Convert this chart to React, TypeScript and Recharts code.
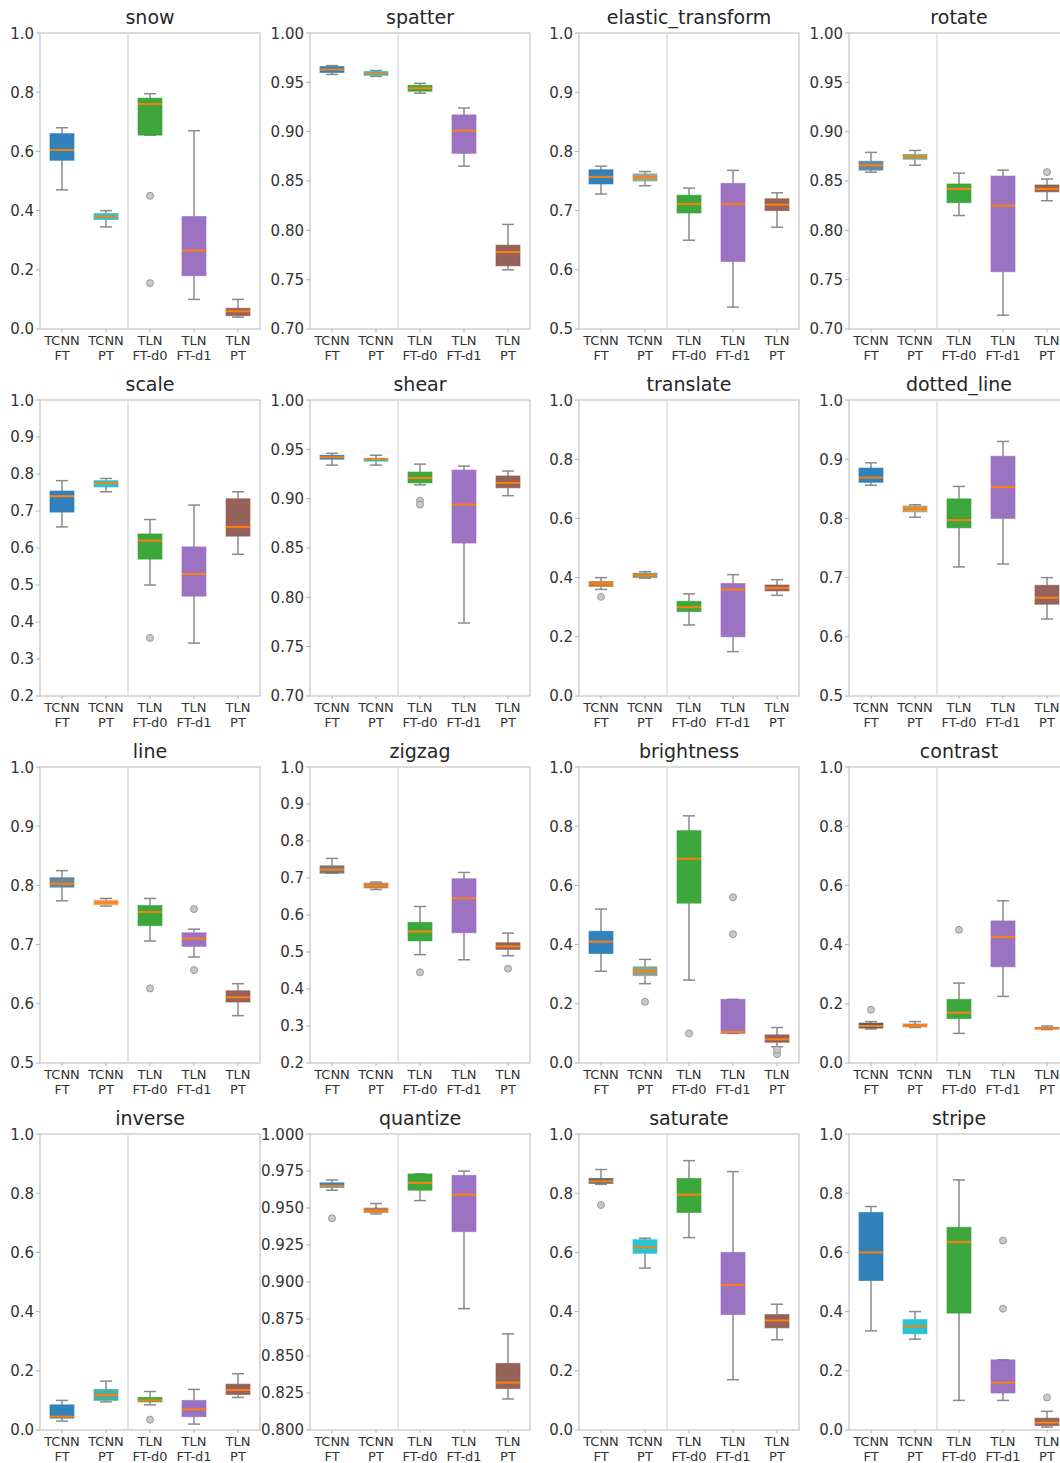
import React from 'react';
import { ComposedChart, Bar, XAxis, YAxis, ReferenceLine, ReferenceArea } from 'recharts';

const categories = ['TCNN FT', 'TCNN PT', 'TLN FT-d0', 'TLN FT-d1', 'TLN PT'];

// each box: [whisker low, q1, median, q3, whisker high]
const snowStats = [[0.47, 0.57, 0.605, 0.66, 0.68], [0.345, 0.37, 0.38, 0.39, 0.4], [0.655, 0.655, 0.76, 0.78, 0.795], [0.1, 0.18, 0.265, 0.38, 0.67], [0.04, 0.045, 0.06, 0.07, 0.1]];
const snowOutliers = [[], [], [0.45, 0.155], [], []];

const spatterStats = [[0.958, 0.96, 0.963, 0.966, 0.967], [0.956, 0.957, 0.959, 0.961, 0.962], [0.939, 0.941, 0.944, 0.947, 0.949], [0.865, 0.878, 0.901, 0.917, 0.924], [0.76, 0.764, 0.778, 0.785, 0.806]];
const spatterOutliers = [[], [], [], [], []];

const elasticStats = [[0.728, 0.745, 0.757, 0.769, 0.775], [0.742, 0.75, 0.756, 0.762, 0.766], [0.65, 0.696, 0.711, 0.726, 0.738], [0.537, 0.614, 0.711, 0.746, 0.768], [0.672, 0.7, 0.71, 0.72, 0.73]];
const elasticOutliers = [[], [], [], [], []];

const rotateStats = [[0.859, 0.861, 0.866, 0.87, 0.879], [0.866, 0.872, 0.875, 0.877, 0.881], [0.815, 0.828, 0.842, 0.847, 0.858], [0.714, 0.758, 0.825, 0.855, 0.861], [0.83, 0.839, 0.842, 0.846, 0.852]];
const rotateOutliers = [[], [], [], [], [0.859]];

const scaleStats = [[0.657, 0.697, 0.74, 0.754, 0.782], [0.752, 0.765, 0.775, 0.782, 0.788], [0.5, 0.57, 0.62, 0.638, 0.677], [0.343, 0.47, 0.53, 0.603, 0.716], [0.583, 0.632, 0.657, 0.733, 0.752]];
const scaleOutliers = [[], [], [0.357], [], []];

const shearStats = [[0.934, 0.94, 0.942, 0.944, 0.946], [0.934, 0.938, 0.94, 0.941, 0.944], [0.914, 0.916, 0.921, 0.927, 0.935], [0.774, 0.855, 0.894, 0.929, 0.933], [0.903, 0.911, 0.916, 0.923, 0.928]];
const shearOutliers = [[], [], [0.898, 0.894], [], []];

const translateStats = [[0.36, 0.37, 0.38, 0.387, 0.4], [0.398, 0.4, 0.407, 0.415, 0.42], [0.24, 0.285, 0.3, 0.32, 0.345], [0.15, 0.2, 0.36, 0.38, 0.41], [0.34, 0.355, 0.365, 0.375, 0.393]];
const translateOutliers = [[0.335], [], [], [], []];

const dottedStats = [[0.856, 0.861, 0.869, 0.885, 0.894], [0.802, 0.811, 0.816, 0.821, 0.823], [0.718, 0.784, 0.797, 0.833, 0.854], [0.723, 0.8, 0.853, 0.905, 0.93], [0.63, 0.655, 0.666, 0.687, 0.7]];
const dottedOutliers = [[], [], [], [], []];

const lineStats = [[0.774, 0.797, 0.803, 0.813, 0.825], [0.765, 0.767, 0.771, 0.775, 0.778], [0.706, 0.732, 0.755, 0.766, 0.778], [0.679, 0.697, 0.71, 0.72, 0.726], [0.58, 0.603, 0.611, 0.622, 0.634]];
const lineOutliers = [[], [], [0.626], [0.76, 0.657], []];

const zigzagStats = [[0.713, 0.713, 0.723, 0.733, 0.753], [0.669, 0.673, 0.679, 0.686, 0.689], [0.493, 0.53, 0.555, 0.58, 0.623], [0.479, 0.552, 0.645, 0.698, 0.715], [0.49, 0.507, 0.515, 0.525, 0.551]];
const zigzagOutliers = [[], [], [0.445], [], [0.455]];

const brightnessStats = [[0.31, 0.37, 0.41, 0.445, 0.52], [0.268, 0.295, 0.31, 0.325, 0.35], [0.28, 0.54, 0.69, 0.785, 0.835], [0.1, 0.1, 0.105, 0.215, 0.215], [0.055, 0.07, 0.08, 0.095, 0.12]];
const brightnessOutliers = [[], [0.207], [0.1], [0.56, 0.435], [0.03, 0.045]];

const contrastStats = [[0.115, 0.118, 0.125, 0.135, 0.14], [0.12, 0.122, 0.127, 0.132, 0.14], [0.1, 0.15, 0.17, 0.215, 0.27], [0.225, 0.325, 0.425, 0.48, 0.548], [0.113, 0.115, 0.117, 0.12, 0.125]];
const contrastOutliers = [[0.18], [], [0.45], [], []];

const inverseStats = [[0.03, 0.04, 0.045, 0.085, 0.1], [0.095, 0.1, 0.118, 0.137, 0.165], [0.085, 0.095, 0.1, 0.11, 0.13], [0.02, 0.045, 0.07, 0.1, 0.137], [0.11, 0.12, 0.135, 0.155, 0.19]];
const inverseOutliers = [[], [], [0.035], [], []];

const quantizeStats = [[0.962, 0.964, 0.965, 0.967, 0.969], [0.946, 0.947, 0.948, 0.95, 0.953], [0.955, 0.962, 0.967, 0.973, 0.973], [0.882, 0.934, 0.959, 0.972, 0.975], [0.821, 0.828, 0.832, 0.845, 0.865]];
const quantizeOutliers = [[0.943], [], [], [], []];

const saturateStats = [[0.83, 0.833, 0.84, 0.85, 0.88], [0.547, 0.597, 0.617, 0.643, 0.648], [0.65, 0.735, 0.795, 0.85, 0.91], [0.17, 0.39, 0.49, 0.6, 0.873], [0.305, 0.345, 0.37, 0.39, 0.425]];
const saturateOutliers = [[0.76], [], [], [], []];

const stripeStats = [[0.335, 0.505, 0.6, 0.735, 0.755], [0.307, 0.325, 0.35, 0.373, 0.4], [0.1, 0.395, 0.635, 0.685, 0.845], [0.1, 0.125, 0.16, 0.237, 0.237], [0.01, 0.015, 0.025, 0.04, 0.063]];
const stripeOutliers = [[], [], [], [0.64, 0.41], [0.11]];

// y tick labels
const ticksUnit = [0, 0.2, 0.4, 0.6, 0.8, 1.0];
const ticksHigh = [0.7, 0.75, 0.8, 0.85, 0.9, 0.95, 1.0];
const ticksHalf = [0.5, 0.6, 0.7, 0.8, 0.9, 1.0];
const ticksFrom02 = [0.2, 0.3, 0.4, 0.5, 0.6, 0.7, 0.8, 0.9, 1.0];
const ticksQuant = [0.8, 0.825, 0.85, 0.875, 0.9, 0.925, 0.95, 0.975, 1.0];

const baseColors = ['#1f77b4', '#17becf', '#2ca02c', '#9467bd', '#8c564b'];

const panels = [
  { title: 'snow', stats: snowStats, outliers: snowOutliers, ticks: ticksUnit, dec: 1 },
  { title: 'spatter', stats: spatterStats, outliers: spatterOutliers, ticks: ticksHigh, dec: 2 },
  { title: 'elastic_transform', stats: elasticStats, outliers: elasticOutliers, ticks: ticksHalf, dec: 1, colors: { 1: '#8fa088' } },
  { title: 'rotate', stats: rotateStats, outliers: rotateOutliers, ticks: ticksHigh, dec: 2, colors: { 0: '#557f9e', 1: '#6aa37a' } },
  { title: 'scale', stats: scaleStats, outliers: scaleOutliers, ticks: ticksFrom02, dec: 1 },
  { title: 'shear', stats: shearStats, outliers: shearOutliers, ticks: ticksHigh, dec: 2 },
  { title: 'translate', stats: translateStats, outliers: translateOutliers, ticks: ticksUnit, dec: 1, colors: { 0: '#b8773a', 1: '#7d8a70' } },
  { title: 'dotted_line', stats: dottedStats, outliers: dottedOutliers, ticks: ticksHalf, dec: 1, colors: { 1: '#b89a5a' } },
  { title: 'line', stats: lineStats, outliers: lineOutliers, ticks: ticksHalf, dec: 1, colors: { 0: '#5b7d94', 1: '#e8a060' } },
  { title: 'zigzag', stats: zigzagStats, outliers: zigzagOutliers, ticks: ticksFrom02, dec: 1, colors: { 0: '#6f6f6f', 1: '#b07a4a' } },
  { title: 'brightness', stats: brightnessStats, outliers: brightnessOutliers, ticks: ticksUnit, dec: 1, colors: { 1: '#7f9c88' } },
  { title: 'contrast', stats: contrastStats, outliers: contrastOutliers, ticks: ticksUnit, dec: 1, colors: { 0: '#555555', 1: '#c08050' } },
  { title: 'inverse', stats: inverseStats, outliers: inverseOutliers, ticks: ticksUnit, dec: 1, colors: { 1: '#3aa89a' } },
  { title: 'quantize', stats: quantizeStats, outliers: quantizeOutliers, ticks: ticksQuant, dec: 3, colors: { 1: '#b07a4a' } },
  { title: 'saturate', stats: saturateStats, outliers: saturateOutliers, ticks: ticksUnit, dec: 1, colors: { 0: '#555f66' } },
  { title: 'stripe', stats: stripeStats, outliers: stripeOutliers, ticks: ticksUnit, dec: 1 },
];

const FONT = "'DejaVu Sans', Verdana, sans-serif";
const COL_LEFT = [40, 310, 579, 849];
const ROW_TOP = [33, 400, 767, 1134];
const PLOT_W = 220;
const PLOT_H = 296;
const Y_W = 56;
const M_TOP = 8;
const X_H = 38;

const BoxShape = (props: any) => {
  const { x, y, width, height, payload } = props;
  const [lo, q1, med, q3, hi] = payload.stats;
  const top = Math.min(y, y + height);
  const bottom = Math.max(y, y + height);
  const span = hi - lo || 1;
  const py = (v: number) => bottom - ((v - lo) / span) * (bottom - top);
  const cx = x + width / 2;
  const cap = width * 0.25;
  const wc = '#8a8a8a';
  return (
    <g>
      <line x1={cx} x2={cx} y1={py(hi)} y2={py(q3)} stroke={wc} strokeWidth={1.5} />
      <line x1={cx} x2={cx} y1={py(q1)} y2={py(lo)} stroke={wc} strokeWidth={1.5} />
      <line x1={cx - cap} x2={cx + cap} y1={py(hi)} y2={py(hi)} stroke={wc} strokeWidth={1.5} />
      <line x1={cx - cap} x2={cx + cap} y1={py(lo)} y2={py(lo)} stroke={wc} strokeWidth={1.5} />
      <rect
        x={x}
        y={py(q3)}
        width={width}
        height={Math.max(py(q1) - py(q3), 1)}
        fill={payload.color}
        fillOpacity={0.92}
        stroke={payload.color}
        strokeOpacity={0.6}
        strokeWidth={1}
      />
      <line x1={x} x2={x + width} y1={py(med)} y2={py(med)} stroke="#ff7f0e" strokeWidth={2} />
      {payload.outliers.map((o: number, i: number) => (
        <circle key={i} cx={cx} cy={py(o)} r={3.5} fill="#c8c8c8" stroke="#9a9a9a" strokeWidth={1} />
      ))}
    </g>
  );
};

const XTick = (props: any) => {
  const { x, y, payload } = props;
  const [a, b] = String(payload.value).split(' ');
  return (
    <text x={x} y={y} textAnchor="middle" fontSize={13} fill="#333" fontFamily={FONT}>
      <tspan x={x} dy={11}>{a}</tspan>
      <tspan x={x} dy={15}>{b}</tspan>
    </text>
  );
};

const Panel = ({ p, index }: { p: any; index: number }) => {
  const col = index % 4;
  const row = Math.floor(index / 4);
  const plotLeft = COL_LEFT[col];
  const plotTop = ROW_TOP[row];
  const lo = p.ticks[0];
  const hi = p.ticks[p.ticks.length - 1];
  const data = categories.map((c, i) => ({
    cat: c,
    range: [p.stats[i][0], p.stats[i][4]],
    stats: p.stats[i],
    outliers: p.outliers[i],
    color: (p.colors && p.colors[i]) || baseColors[i],
  }));
  return (
    <>
      <div
        style={{
          position: 'absolute',
          left: plotLeft,
          width: PLOT_W,
          top: plotTop - 27,
          textAlign: 'center',
          fontSize: 19,
          lineHeight: '22px',
          fontFamily: FONT,
          color: '#262626',
        }}
      >
        {p.title}
      </div>
      <div style={{ position: 'absolute', left: plotLeft - Y_W, top: plotTop - M_TOP }}>
        <ComposedChart
          width={Y_W + PLOT_W + 4}
          height={M_TOP + PLOT_H + X_H + 2}
          data={data}
          margin={{ top: M_TOP, right: 4, bottom: 2, left: 0 }}
        >
          <XAxis
            dataKey="cat"
            interval={0}
            tick={<XTick />}
            tickSize={3}
            tickMargin={2}
            height={X_H}
            axisLine={false}
            tickLine={{ stroke: '#b0b0b0' }}
          />
          <YAxis
            type="number"
            domain={[lo, hi]}
            ticks={p.ticks}
            allowDataOverflow
            width={Y_W}
            tickFormatter={(v: number) => v.toFixed(p.dec)}
            tick={{ fontSize: 15, fill: '#333', fontFamily: FONT }}
            tickSize={4}
            tickMargin={2}
            axisLine={false}
            tickLine={{ stroke: '#b0b0b0' }}
          />
          <ReferenceArea
            x1={categories[0]}
            x2={categories[categories.length - 1]}
            y1={lo}
            y2={hi}
            fill="none"
            stroke="#cfcfcf"
            strokeWidth={1.5}
            ifOverflow="visible"
          />
          <ReferenceLine x={categories[1]} position="end" stroke="#dcdcdc" strokeWidth={1.5} />
          <Bar dataKey="range" barSize={24} shape={<BoxShape />} isAnimationActive={false} />
        </ComposedChart>
      </div>
    </>
  );
};

export default function App() {
  return (
    <div
      style={{
        position: 'absolute',
        left: 0,
        top: 0,
        width: 1060,
        height: 1463,
        overflow: 'hidden',
        background: '#fff',
      }}
    >
      {panels.map((p, i) => (
        <Panel key={p.title} p={p} index={i} />
      ))}
    </div>
  );
}
